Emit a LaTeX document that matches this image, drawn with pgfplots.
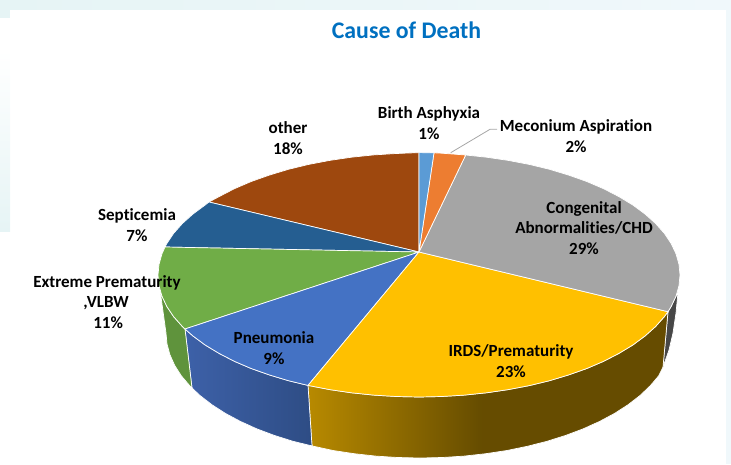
\documentclass[border=0pt]{standalone}
\usepackage{fontspec}
\setmainfont[Ligatures=NoCommon]{Carlito}
\usepackage{pgfplots}
\pgfplotsset{compat=1.18}
\definecolor{cBirth}{HTML}{5B9BD5}
\definecolor{cMec}{HTML}{ED7D31}
\definecolor{cCHD}{HTML}{A5A5A5}
\definecolor{cIRDS}{HTML}{FFC000}
\definecolor{cPneu}{HTML}{4472C4}
\definecolor{cExt}{HTML}{70AD47}
\definecolor{cSep}{HTML}{255E91}
\definecolor{cOth}{HTML}{9E480E}
\definecolor{title}{HTML}{0070C0}
\definecolor{bgteal}{HTML}{E6F4F5}
\definecolor{bgpale}{HTML}{EFF8F9}
\definecolor{bgright}{HTML}{F0F8FB}
\pgfdeclarehorizontalshading{yellowside}{100bp}{rgb(0bp)=(0.72,0.54,0); rgb(25bp)=(0.72,0.54,0); rgb(49bp)=(0.40,0.30,0); rgb(100bp)=(0.40,0.30,0)}
\pgfdeclarehorizontalshading{blueside}{100bp}{rgb(0bp)=(0.24,0.38,0.66); rgb(25bp)=(0.24,0.38,0.66); rgb(75bp)=(0.18,0.30,0.52); rgb(100bp)=(0.18,0.30,0.52)}
\tikzset{
  edge/.style={draw=white, line width=0.7pt, line join=round},
  lab/.style={font=\bfseries\fontsize{17}{20.3}\selectfont, align=center, text=black, inner sep=0pt},
}
\begin{document}
\begin{tikzpicture}
\begin{axis}[
  scale only axis, width=731pt, height=464pt,
  xmin=0, xmax=731, ymin=0, ymax=464, y dir=reverse,
  hide axis, clip=true,
]
% background remnants
\addplot[draw=none, left color=bgteal, right color=bgright] coordinates {(0,0)(731,0)(731,9)(0,9)} --cycle;
\addplot[draw=none, fill=bgteal] coordinates {(0,0)(10,0)(10,18)(0,18)} --cycle;
\addplot[draw=none, top color=white, bottom color=bgteal] coordinates {(0,50)(10,50)(10,231)(0,231)} --cycle;
\addplot[draw=none, fill=bgright] coordinates {(726,0)(731,0)(731,464)(726,464)} --cycle;
% side walls
\addplot[edge, fill=black!72] coordinates {(678,292)(676,296.2)(671.1,306.6)(668,311.7)(663,367)(669,350)(673,333)(676,313)} --cycle;
\addplot[edge, shading=yellowside] coordinates {(668,311.7)(664.3,316.7)(655.5,326.6)(645,336)(632.8,345)(618.9,353.4)(603.6,361.3)(586.8,368.5)(568.7,374.9)(549.5,380.7)(529.3,385.6)(508.3,389.6)(486.5,392.8)(464.3,395.1)(441.8,396.5)(419,397)(396.2,396.5)(373.7,395.1)(351.5,392.8)(329.7,389.6)(308,385.4)
 (312,445.9)(333.1,450.5)(354.3,453.7)(375.9,456.1)(397.9,457.5)(420,458)(442.1,457.5)(464.1,456.1)(485.7,453.7)(506.9,450.5)(527.3,446.3)(547,441.3)(565.7,435.4)(583.3,428.8)(599.6,421.4)(614.6,413.4)(628.1,404.7)(640,395.5)(650.2,385.8)(658.7,375.8)(663,367)} --cycle;
\addplot[edge, shading=blueside] coordinates {(308,385.4)(288.5,380.7)(269.3,374.9)(251.2,368.5)(234.4,361.3)(219.1,353.4)(205.2,345)(193,336)(185,329)
 (192,388)(200,395.5)(211.9,404.7)(225.4,413.4)(240.4,421.4)(256.7,428.8)(274.3,435.4)(293,441.3)(312,445.9)} --cycle;
\addplot[edge, fill=cExt!85!black] coordinates {(185,329)(182.5,326.6)(173.7,316.7)(166.9,306.6)(162,296.2)(159,285.6)(158,275)
 (166,333)(167,343.9)(169.9,354.7)(174.7,365.4)(181.3,375.8)(189.8,385.8)(192,388)} --cycle;
% top faces
\addplot[edge, fill=cOth] coordinates {(419,252)(209,202)(219.1,196.6)(234.4,188.7)(251.2,181.5)(269.3,175.1)(288.5,169.3)(308.7,164.4)(329.7,160.4)(351.5,157.2)(373.7,154.9)(396.2,153.5)(419,152.6)} --cycle;
\addplot[edge, fill=cSep] coordinates {(419,252)(165,247)(166.9,243.4)(173.7,233.3)(182.5,223.4)(193,214)(205.2,205)(209,202)} --cycle;
\addplot[edge, fill=cExt] coordinates {(419,252)(185,329)(182.5,326.6)(173.7,316.7)(166.9,306.6)(162,296.2)(159,285.6)(158,275)(159,264.4)(162,253.8)(165,247)} --cycle;
\addplot[edge, fill=cPneu] coordinates {(419,252)(308,385.4)(288.5,380.7)(269.3,374.9)(251.2,368.5)(234.4,361.3)(219.1,353.4)(205.2,345)(193,336)(185,329)} --cycle;
\addplot[edge, fill=cIRDS] coordinates {(419,252)(668,311.7)(664.3,316.7)(655.5,326.6)(645,336)(632.8,345)(618.9,353.4)(603.6,361.3)(586.8,368.5)(568.7,374.9)(549.5,380.7)(529.3,385.6)(508.3,389.6)(486.5,392.8)(464.3,395.1)(441.8,396.5)(419,397)(396.2,396.5)(373.7,395.1)(351.5,392.8)(329.7,389.6)(308,385.4)} --cycle;
\addplot[edge, fill=cCHD] coordinates {(419,252)(465.7,155)(486.5,157.2)(508.3,160.4)(529.3,164.4)(549.5,169.3)(568.7,175.1)(586.8,181.5)(603.6,188.7)(618.9,196.6)(632.8,205)(645,214)(655.5,223.4)(664.3,233.3)(671.1,243.4)(676,253.8)(679,264.4)(680,275)(679,285.6)(676,296.2)(671.1,306.6)(668,311.7)} --cycle;
\addplot[edge, fill=cMec] coordinates {(419,252)(434,152.8)(441.8,153.2)(464.3,154.9)(465.7,155)} --cycle;
\addplot[edge, fill=cBirth] coordinates {(419,252)(419,152.6)(434,152.8)} --cycle;
% leader
\addplot[draw=black!35, line width=0.8pt] coordinates {(450.7,152.7)(490,129.3)(497,129.3)};
% text
\node[font=\bfseries\fontsize{23.8}{28}\selectfont, text=title, inner sep=0pt] at (axis cs:406.5,30) {Cause of Death};
\node[lab] at (axis cs:429,123) {Birth Asphyxia\\1\%};
\node[lab] at (axis cs:576,136) {Meconium Aspiration\\2\%};
\node[lab] at (axis cs:584,228) {Congenital\\Abnormalities/CHD\\29\%};
\node[lab] at (axis cs:511,361) {IRDS/Prematurity\\23\%};
\node[lab] at (axis cs:274,348) {Pneumonia\\9\%};
\node[lab, align=left] at (axis cs:107,302) {Extreme Prematurity\\\hspace*{50pt},VLBW\\\hspace*{60pt}11\%};
\node[lab] at (axis cs:137,225) {Septicemia\\7\%};
\node[lab] at (axis cs:288,138) {other\\18\%};
\end{axis}
\end{tikzpicture}
\end{document}
